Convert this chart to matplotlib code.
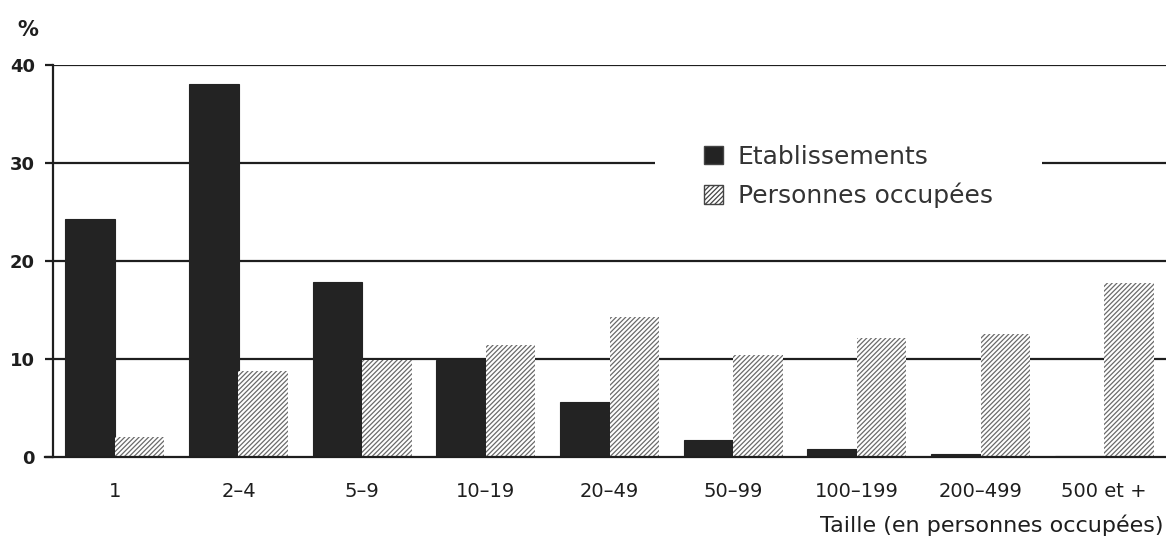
import matplotlib
matplotlib.use("Agg")
import matplotlib.pyplot as plt
from matplotlib.patches import Rectangle
import numpy as np

categories = ["1", "2–4", "5–9", "10–19", "20–49", "50–99", "100–199", "200–499", "500 et +"]
etablissements = [24.3, 38.1, 17.9, 9.9, 5.6, 1.7, 0.85, 0.3, 0.08]
personnes = [2.0, 8.8, 9.9, 11.4, 14.3, 10.4, 12.1, 12.6, 17.8]
yticks = [0, 10, 20, 30, 40]

plt.rcParams['font.family'] = ['DejaVu Sans']
plt.rcParams['hatch.linewidth'] = 0.9

W, H = 1166, 542
fig = plt.figure(figsize=(W / 100, H / 100), dpi=100)
ax = fig.add_axes([53 / W, 1 - 457 / H, 1 - 53 / W, (457 - 65) / H])

x = np.arange(len(categories))
bw = 0.4
ink = "#1e1e1e"

ax.bar(x - bw / 2, etablissements, width=bw, color="#232323", edgecolor="#232323",
       linewidth=0.8, zorder=3, label="Etablissements")
ax.bar(x + bw / 2, personnes, width=bw, color="white", edgecolor="#6a6a6a",
       linewidth=0, hatch="///////", zorder=3, label="Personnes occupées")

ax.set_xlim(-0.5, 8.5)
ax.set_ylim(0, 40)
ax.set_yticks(yticks)
ax.set_yticklabels([str(v) for v in yticks], fontsize=13, fontweight="bold", color=ink)
ax.set_xticks(x)
ax.set_xticklabels(categories, fontsize=14, color=ink)

for v in yticks[1:]:
    ax.axhline(v, color=ink, lw=1.6, zorder=1)

for s in ["top", "right", "bottom"]:
    ax.spines[s].set_visible(False)
ax.spines["left"].set_linewidth(1.6)
ax.spines["left"].set_color(ink)
ax.axhline(0, xmin=-8 / (W - 53), xmax=1, color=ink, lw=1.6, zorder=4, clip_on=False)

ax.tick_params(axis="y", length=6, width=1.6, color=ink, pad=7)
ax.tick_params(axis="x", length=0, pad=18)

# white block behind the legend hiding the 30 gridline
ax.add_patch(Rectangle((655 / W, 1 - 215 / H), (1042 - 655) / W, 85 / H,
                       transform=fig.transFigure, facecolor="white",
                       edgecolor="none", zorder=2, clip_on=False))

leg = ax.legend(loc="upper left", bbox_to_anchor=(699 / W, 1 - 140 / H),
                bbox_transform=fig.transFigure, frameon=False,
                fontsize=18, handlelength=0.75, handleheight=0.75,
                handletextpad=0.6, labelspacing=0.55, borderpad=0.2,
                borderaxespad=0)
leg.set_zorder(5)
for t in leg.get_texts():
    t.set_color("#333333")
for h in leg.legend_handles:
    h.set_edgecolor("#444444")
    h.set_linewidth(1.0)

fig.text(17 / W, 1 - 30 / H, "%", fontsize=15, fontweight="bold", color=ink,
         ha="left", va="center")
fig.text(1163 / W, 1 - 525 / H, "Taille (en personnes occupées)", fontsize=16,
         color=ink, ha="right", va="center")

fig.savefig("out.png", dpi=100)
